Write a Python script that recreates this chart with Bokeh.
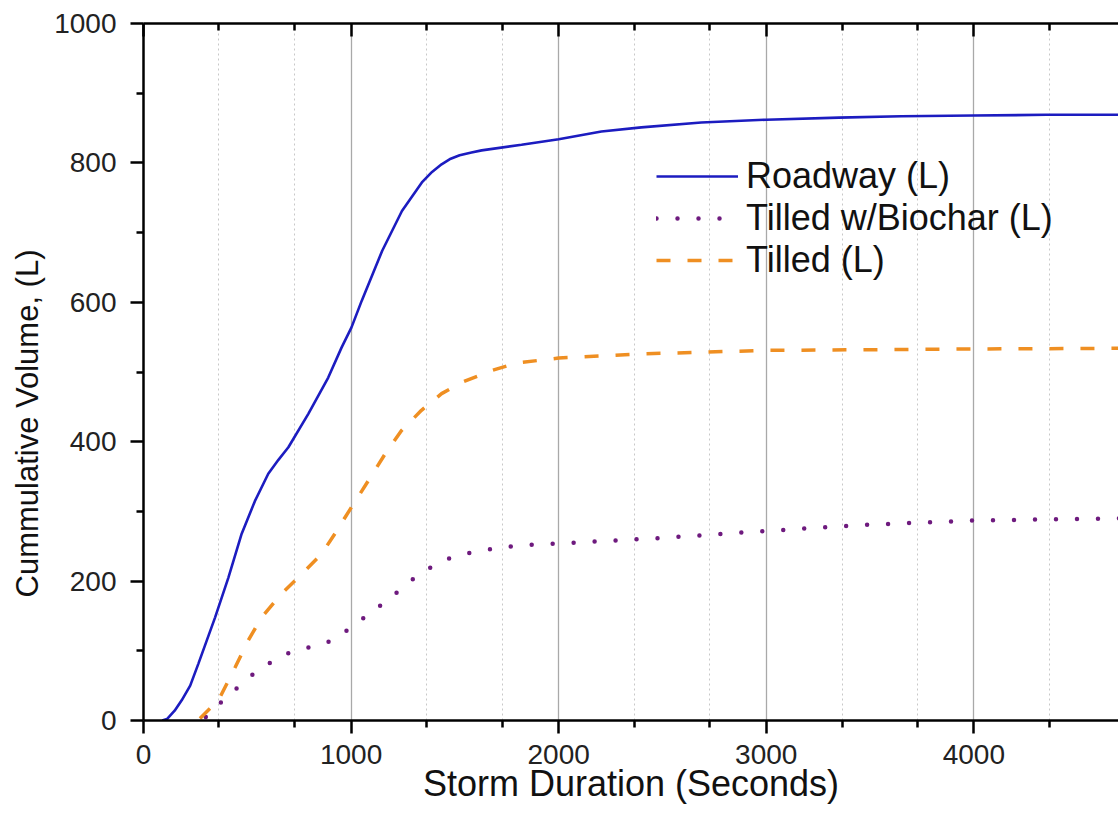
from bokeh.plotting import figure
from bokeh.models import LinearAxis, FixedTicker, Range1d, Legend, LegendItem, Title
from bokeh.embed import file_html
from bokeh.resources import INLINE

# ---- data ----
roadway_t = [90, 113, 150, 184, 225, 265, 305, 345, 409, 473, 537, 601, 650, 698, 794, 890, 954,
             1002, 1051, 1150, 1245, 1341, 1390, 1436, 1480, 1523, 1580, 1629, 1821, 2000, 2206,
             2398, 2687, 3000, 3350, 3650, 4000, 4350, 4700]
roadway_v = [0, 2, 14, 29, 50, 82, 115, 148, 205, 268, 315, 354, 374, 392, 440, 492, 535,
             564, 602, 674, 731, 772, 787, 798, 806, 811, 815, 818, 826, 834, 845,
             851, 858, 862, 865, 867, 868, 869, 869]

biochar_t = [300, 353, 425, 489, 564, 638, 714, 799, 885, 962, 1031, 1107, 1179, 1251, 1319,
             1396, 1484, 1577, 1676, 1800, 2000, 2500, 3000, 3500, 4000, 4700]
biochar_v = [5, 21, 39, 58, 74, 88, 99, 105, 112, 125, 141, 157, 174, 191, 208,
             222, 234, 241, 246, 251, 254, 262, 272, 281, 287, 290]

tilled_t = [272, 361, 441, 505, 569, 665, 762, 858, 922, 1002, 1083, 1163, 1243, 1339, 1436,
            1532, 1676, 1800, 2000, 2400, 3000, 3500, 4000, 4700]
tilled_v = [3, 29, 76, 115, 148, 182, 210, 239, 268, 306, 344, 382, 416, 445, 469,
            485, 502, 513, 520, 526, 531, 532, 533, 534]

x_major_ticks = [0, 1000, 2000, 3000, 4000]
x_minor_ticks = [362, 729, 1362, 1729, 2363, 2729, 3366, 3731, 4363]
y_major_ticks = [0, 200, 400, 600, 800, 1000]
y_minor_ticks = [100, 300, 500, 700, 900]

series_names = ["Roadway (L)", "Tilled w/Biochar (L)", "Tilled (L)"]
x_title = "Storm Duration (Seconds)"
y_title = "Cummulative Volume, (L)"

FONT = "Liberation Sans"

p = figure(width=1118, height=825,
           x_range=Range1d(0, 4697), y_range=Range1d(0, 1000),
           output_backend="svg", toolbar_location=None,
           min_border_left=142, min_border_right=0, min_border_top=23, min_border_bottom=105,
           x_axis_label=x_title)
p.outline_line_color = None
p.background_fill_color = "white"
p.border_fill_color = "white"

xt = FixedTicker(ticks=x_major_ticks, minor_ticks=x_minor_ticks)
yt = FixedTicker(ticks=y_major_ticks, minor_ticks=y_minor_ticks)
p.xaxis.ticker = xt
p.yaxis.ticker = yt

for ax in (p.xaxis[0], p.yaxis[0]):
    ax.axis_line_width = 2.5
    ax.axis_line_color = "black"
    ax.major_tick_line_width = 2.5
    ax.minor_tick_line_width = 2.5
    ax.major_tick_line_color = "black"
    ax.minor_tick_line_color = "black"
    ax.major_tick_out = 13
    ax.major_tick_in = 0
    ax.minor_tick_out = 7
    ax.minor_tick_in = 0
    ax.major_label_text_font = FONT
    ax.major_label_text_font_size = "28px"
    ax.major_label_text_color = "#222222"
    ax.axis_label_text_font = FONT
    ax.axis_label_text_font_style = "normal"
    ax.axis_label_text_color = "#111111"

p.xaxis.major_label_standoff = 11
p.xaxis.axis_label_text_font_size = "36px"
p.xaxis.axis_label_standoff = -4
p.yaxis.major_label_standoff = 14

ytitle = Title(text=y_title, align="left", offset=123, standoff=14,
               text_font=FONT, text_font_size="31px", text_font_style="normal",
               text_color="#111111")
p.add_layout(ytitle, "left")

top = LinearAxis(ticker=xt)
top.axis_line_width = 2.5
top.major_tick_line_width = 2.5
top.minor_tick_line_width = 2.5
top.major_tick_out = 0
top.major_tick_in = 13
top.minor_tick_out = 0
top.minor_tick_in = 7
top.major_label_text_font_size = "0px"
top.major_label_text_alpha = 0
top.major_label_standoff = 0
p.add_layout(top, "above")

p.xgrid.ticker = xt
p.xgrid.grid_line_color = "#a9a9a9"
p.xgrid.grid_line_width = 1.3
p.xgrid.minor_grid_line_color = "#c8c8c8"
p.xgrid.minor_grid_line_width = 1
p.xgrid.minor_grid_line_dash = "2 3"
p.ygrid.grid_line_color = None

r1 = p.line(roadway_t, roadway_v, line_color="#1c1cc0", line_width=2.6)
r2 = p.line(biochar_t, biochar_v, line_color="#6e1a7e", line_width=4.5,
            line_dash="0 21", line_cap="round")
r3 = p.line(tilled_t, tilled_v, line_color="#ef8f22", line_width=3.5,
            line_dash="14 17")

legend = Legend(items=[LegendItem(label=series_names[0], renderers=[r1]),
                       LegendItem(label=series_names[1], renderers=[r2]),
                       LegendItem(label=series_names[2], renderers=[r3])],
                location=(513, 439), orientation="vertical",
                label_text_font=FONT, label_text_font_size="36px", label_text_color="#111111",
                glyph_width=82, glyph_height=42, label_height=42, spacing=0,
                label_standoff=8, padding=0, margin=0,
                border_line_color=None, background_fill_alpha=0)
p.add_layout(legend, "center")

open("out.html", "w").write(file_html(p, INLINE))
